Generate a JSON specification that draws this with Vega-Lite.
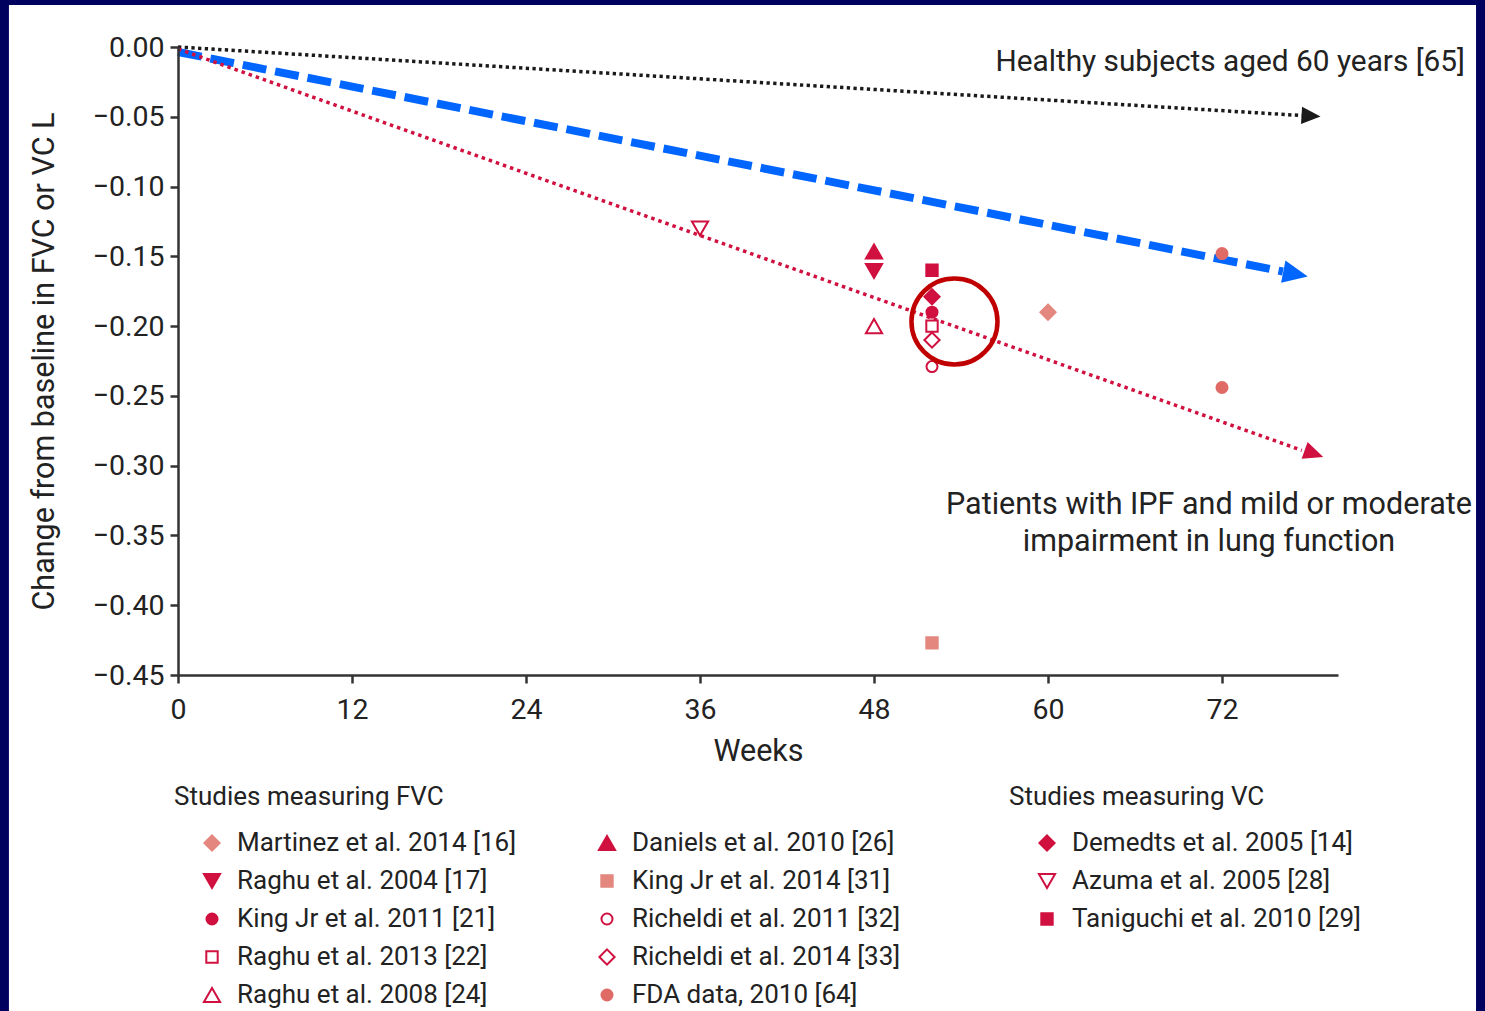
{
  "$schema": "https://vega.github.io/schema/vega-lite/v6.json",
  "width": 1160,
  "height": 628,
  "autosize": {"type": "none"},
  "padding": {"left": 178, "top": 47, "right": 147, "bottom": 336},
  "background": "#00005e",
  "config": {
    "view": {"stroke": null},
    "font": "Roboto",
    "axis": {
      "domainColor": "#333333", "domainWidth": 2.5,
      "tickColor": "#333333", "tickWidth": 2.5, "tickSize": 8,
      "labelFont": "Roboto", "labelFontSize": 28.5, "labelColor": "#222222", "labelFlush": false,
      "titleFont": "Roboto", "titleFontSize": 30.5, "titleFontWeight": "normal", "titleColor": "#222222",
      "grid": false, "zindex": 1
    },
    "legend": {
      "orient": "none", "direction": "vertical", "padding": 0,
      "titleFont": "Roboto", "titleFontSize": 26, "titleFontWeight": "normal", "titleColor": "#222222", "titleLimit": 600,
      "labelFont": "Roboto", "labelFontSize": 26, "labelColor": "#222222", "labelLimit": 600,
      "symbolSize": 361, "symbolStrokeWidth": 2,
      "rowPadding": 12, "titlePadding": 20, "symbolOffset": 25, "labelOffset": 12
    }
  },
  "datasets": {
    "fvcA": [
      {"study": "Martinez et al. 2014 [16]", "week": 60, "value": -0.19},
      {"study": "Raghu et al. 2004 [17]", "week": 48, "value": -0.1605},
      {"study": "King Jr et al. 2011 [21]", "week": 52, "value": -0.19},
      {"study": "Raghu et al. 2013 [22]", "week": 52, "value": -0.20},
      {"study": "Raghu et al. 2008 [24]", "week": 48, "value": -0.20}
    ],
    "fvcB": [
      {"study": "Daniels et al. 2010 [26]", "week": 48, "value": -0.1465},
      {"study": "King Jr et al. 2014 [31]", "week": 52, "value": -0.427},
      {"study": "Richeldi et al. 2011 [32]", "week": 52, "value": -0.229},
      {"study": "Richeldi et al. 2014 [33]", "week": 52, "value": -0.21},
      {"study": "FDA data, 2010 [64]", "week": 72, "value": -0.148},
      {"study": "FDA data, 2010 [64]", "week": 72, "value": -0.244}
    ],
    "vc": [
      {"study": "Demedts et al. 2005 [14]", "week": 52, "value": -0.179},
      {"study": "Azuma et al. 2005 [28]", "week": 36, "value": -0.13},
      {"study": "Taniguchi et al. 2010 [29]", "week": 52, "value": -0.16}
    ]
  },
  "layer": [
    {
      "data": {"values": [{}]},
      "mark": {"type": "rect", "color": "#ffffff", "clip": false},
      "encoding": {
        "x": {"datum": -11.66, "type": "quantitative", "scale": {"domain": [0, 80], "nice": false, "zero": false}},
        "x2": {"datum": 89.52},
        "y": {"datum": 0.0301, "type": "quantitative", "scale": {"domain": [-0.45, 0], "nice": false, "zero": false}},
        "y2": {"datum": -0.71}
      }
    },
    {
      "data": {"values": [{"week": 0, "value": 0}, {"week": 77.5, "value": -0.0491}]},
      "mark": {"type": "line", "color": "#1a1a1a", "strokeWidth": 3.5, "strokeDash": [3.3, 3.4], "strokeCap": "butt"},
      "encoding": {
        "x": {"field": "week", "type": "quantitative", "scale": {"domain": [0, 80], "nice": false, "zero": false},
              "axis": {"title": "Weeks", "values": [0, 12, 24, 36, 48, 60, 72], "labelPadding": 12, "titlePadding": 13, "labelFlush": false, "zindex": 2}},
        "y": {"field": "value", "type": "quantitative", "scale": {"domain": [-0.45, 0], "nice": false, "zero": false},
              "axis": {"title": "Change from baseline in FVC or VC L", "values": [0, -0.05, -0.1, -0.15, -0.2, -0.25, -0.3, -0.35, -0.4, -0.45], "format": ".2f", "labelPadding": 6, "titlePadding": 33, "labelFlush": false, "zindex": 2}}
      }
    },
    {
      "data": {"values": [{"week": 78.14, "value": -0.0494}]},
      "mark": {"type": "point", "shape": "M1,0L-1,-0.9L-1,0.9Z", "size": 361, "angle": 3.5, "filled": true, "color": "#1a1a1a", "opacity": 1},
      "encoding": {
        "x": {"field": "week", "type": "quantitative"},
        "y": {"field": "value", "type": "quantitative"}
      }
    },
    {
      "data": {"values": [{"week": 0, "value": -0.0036}, {"week": 76.2, "value": -0.1609}]},
      "mark": {"type": "line", "color": "#0066ff", "strokeWidth": 8, "strokeDash": [24, 9], "strokeCap": "butt"},
      "encoding": {
        "x": {"field": "week", "type": "quantitative"},
        "y": {"field": "value", "type": "quantitative"}
      }
    },
    {
      "data": {"values": [{"week": 77.07, "value": -0.1627}]},
      "mark": {"type": "point", "shape": "M1,0L-1,-0.9L-1,0.9Z", "size": 625, "angle": 11.2, "filled": true, "color": "#0066ff", "opacity": 1},
      "encoding": {
        "x": {"field": "week", "type": "quantitative"},
        "y": {"field": "value", "type": "quantitative"}
      }
    },
    {
      "data": {"values": [{"week": 0, "value": -0.0014}, {"week": 77.5, "value": -0.289}]},
      "mark": {"type": "line", "color": "#d0103f", "strokeWidth": 3.5, "strokeDash": [3.5, 4], "strokeCap": "butt"},
      "encoding": {
        "x": {"field": "week", "type": "quantitative"},
        "y": {"field": "value", "type": "quantitative"}
      }
    },
    {
      "data": {"values": [{"week": 78.34, "value": -0.2915}]},
      "mark": {"type": "point", "shape": "M1,0L-1,-0.9L-1,0.9Z", "size": 390, "angle": 19.6, "filled": true, "color": "#d0103f", "opacity": 1},
      "encoding": {
        "x": {"field": "week", "type": "quantitative"},
        "y": {"field": "value", "type": "quantitative"}
      }
    },
    {
      "data": {"name": "fvcA"},
      "mark": {"type": "point", "filled": true, "size": 361, "strokeWidth": 2, "opacity": 1},
      "encoding": {
        "x": {"field": "week", "type": "quantitative"},
        "y": {"field": "value", "type": "quantitative"},
        "shape": {"field": "study", "type": "nominal", "scale": {"domain": ["Martinez et al. 2014 [16]", "Raghu et al. 2004 [17]", "King Jr et al. 2011 [21]", "Raghu et al. 2013 [22]", "Raghu et al. 2008 [24]"],
          "range": ["M0,-0.8L0.8,0L0,0.8L-0.8,0Z", "M0,0.74L0.85,-0.74L-0.85,-0.74Z", "M0.58,0A0.58,0.58,0,1,1,-0.58,0A0.58,0.58,0,1,1,0.58,0Z", "M-0.6,-0.6L0.6,-0.6L0.6,0.6L-0.6,0.6Z", "M0,-0.74L0.85,0.74L-0.85,0.74Z"]},
          "legend": {"title": "Studies measuring FVC", "legendX": -4, "legendY": 737}},
        "fill": {"field": "study", "type": "nominal", "scale": {"domain": ["Martinez et al. 2014 [16]", "Raghu et al. 2004 [17]", "King Jr et al. 2011 [21]", "Raghu et al. 2013 [22]", "Raghu et al. 2008 [24]"],
          "range": ["#e3877f", "#d0103f", "#d0103f", "#ffffff", "#ffffff"]},
          "legend": {"title": "Studies measuring FVC", "legendX": -4, "legendY": 737}},
        "stroke": {"field": "study", "type": "nominal", "scale": {"domain": ["Martinez et al. 2014 [16]", "Raghu et al. 2004 [17]", "King Jr et al. 2011 [21]", "Raghu et al. 2013 [22]", "Raghu et al. 2008 [24]"],
          "range": ["#e3877f", "#d0103f", "#d0103f", "#d0103f", "#d0103f"]},
          "legend": {"title": "Studies measuring FVC", "legendX": -4, "legendY": 737}}
      }
    },
    {
      "data": {"name": "fvcB"},
      "mark": {"type": "point", "filled": true, "size": 361, "strokeWidth": 2, "opacity": 1},
      "encoding": {
        "x": {"field": "week", "type": "quantitative"},
        "y": {"field": "value", "type": "quantitative"},
        "shape": {"field": "study", "type": "nominal", "scale": {"domain": ["Daniels et al. 2010 [26]", "King Jr et al. 2014 [31]", "Richeldi et al. 2011 [32]", "Richeldi et al. 2014 [33]", "FDA data, 2010 [64]"],
          "range": ["M0,-0.74L0.85,0.74L-0.85,0.74Z", "M-0.6,-0.6L0.6,-0.6L0.6,0.6L-0.6,0.6Z", "M0.58,0A0.58,0.58,0,1,1,-0.58,0A0.58,0.58,0,1,1,0.58,0Z", "M0,-0.8L0.8,0L0,0.8L-0.8,0Z", "M0.58,0A0.58,0.58,0,1,1,-0.58,0A0.58,0.58,0,1,1,0.58,0Z"]},
          "legend": {"title": " ", "legendX": 391, "legendY": 737}},
        "fill": {"field": "study", "type": "nominal", "scale": {"domain": ["Daniels et al. 2010 [26]", "King Jr et al. 2014 [31]", "Richeldi et al. 2011 [32]", "Richeldi et al. 2014 [33]", "FDA data, 2010 [64]"],
          "range": ["#d0103f", "#e3877f", "#ffffff", "#ffffff", "#e06b66"]},
          "legend": {"title": " ", "legendX": 391, "legendY": 737}},
        "stroke": {"field": "study", "type": "nominal", "scale": {"domain": ["Daniels et al. 2010 [26]", "King Jr et al. 2014 [31]", "Richeldi et al. 2011 [32]", "Richeldi et al. 2014 [33]", "FDA data, 2010 [64]"],
          "range": ["#d0103f", "#e3877f", "#d0103f", "#d0103f", "#e06b66"]},
          "legend": {"title": " ", "legendX": 391, "legendY": 737}}
      }
    },
    {
      "data": {"name": "vc"},
      "mark": {"type": "point", "filled": true, "size": 361, "strokeWidth": 2, "opacity": 1},
      "encoding": {
        "x": {"field": "week", "type": "quantitative"},
        "y": {"field": "value", "type": "quantitative"},
        "shape": {"field": "study", "type": "nominal", "scale": {"domain": ["Demedts et al. 2005 [14]", "Azuma et al. 2005 [28]", "Taniguchi et al. 2010 [29]"],
          "range": ["M0,-0.8L0.8,0L0,0.8L-0.8,0Z", "M0,0.74L0.85,-0.74L-0.85,-0.74Z", "M-0.6,-0.6L0.6,-0.6L0.6,0.6L-0.6,0.6Z"]},
          "legend": {"title": "Studies measuring VC", "legendX": 831, "legendY": 737}},
        "fill": {"field": "study", "type": "nominal", "scale": {"domain": ["Demedts et al. 2005 [14]", "Azuma et al. 2005 [28]", "Taniguchi et al. 2010 [29]"],
          "range": ["#d0103f", "#ffffff", "#d0103f"]},
          "legend": {"title": "Studies measuring VC", "legendX": 831, "legendY": 737}},
        "stroke": {"field": "study", "type": "nominal", "scale": {"domain": ["Demedts et al. 2005 [14]", "Azuma et al. 2005 [28]", "Taniguchi et al. 2010 [29]"],
          "range": ["#d0103f", "#d0103f", "#d0103f"]},
          "legend": {"title": "Studies measuring VC", "legendX": 831, "legendY": 737}}
      }
    },
    {
      "data": {"values": [{"week": 53.55, "value": -0.1967}]},
      "mark": {"type": "point", "shape": "circle", "size": 7400, "filled": false, "strokeWidth": 4.5, "color": "#c00000", "opacity": 1},
      "encoding": {
        "x": {"field": "week", "type": "quantitative"},
        "y": {"field": "value", "type": "quantitative"}
      }
    },
    {
      "data": {"values": [{"week": 88.76, "value": -0.0107, "label": "Healthy subjects aged 60 years [65]"}]},
      "mark": {"type": "text", "align": "right", "baseline": "middle", "font": "Roboto", "fontSize": 29.8, "color": "#222222"},
      "encoding": {
        "x": {"field": "week", "type": "quantitative"},
        "y": {"field": "value", "type": "quantitative"},
        "text": {"field": "label"}
      }
    },
    {
      "data": {"values": [
        {"week": 71.1, "value": -0.3282, "label": "Patients with IPF and mild or moderate"},
        {"week": 71.1, "value": -0.3547, "label": "impairment in lung function"}
      ]},
      "mark": {"type": "text", "align": "center", "baseline": "middle", "font": "Roboto", "fontSize": 30.5, "color": "#222222"},
      "encoding": {
        "x": {"field": "week", "type": "quantitative"},
        "y": {"field": "value", "type": "quantitative"},
        "text": {"field": "label"}
      }
    }
  ],
  "resolve": {
    "scale": {"fill": "independent", "stroke": "independent", "shape": "independent"},
    "legend": {"fill": "independent", "stroke": "independent", "shape": "independent"}
  }
}
